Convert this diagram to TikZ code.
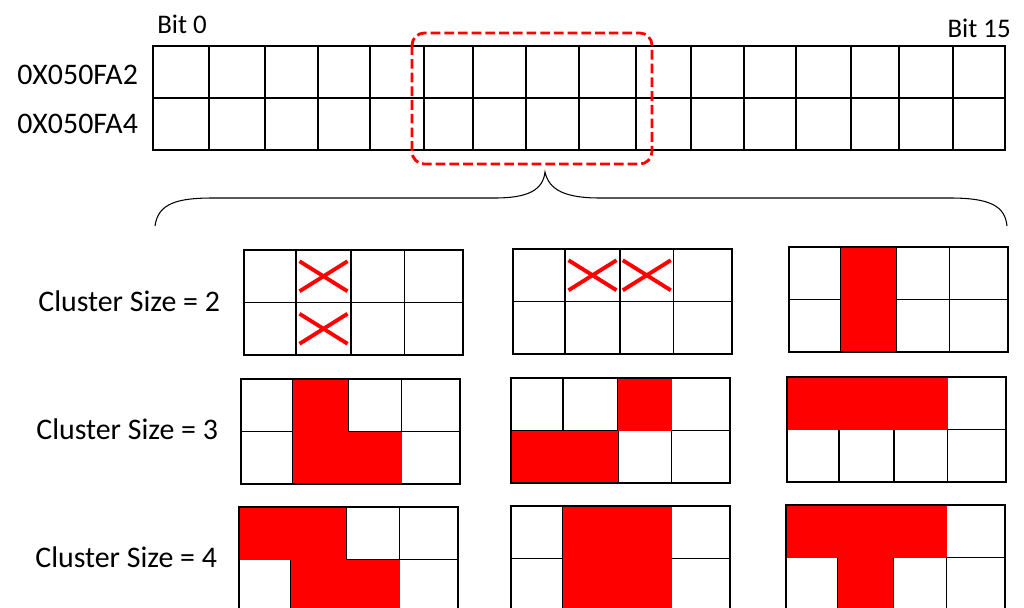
\documentclass[tikz,border=0pt]{standalone}
\usepackage{fontspec}
\setmainfont{Carlito}
\usepackage{tikz}
\usepackage{xcolor}

\newcommand{\colx}[1]{\ifcase#1 0\or 52\or 107\or 160.5\or 219\fi}
\newcommand{\cellh}{52.5}
% one 4x2 cluster: origin, filled cells (col/row), crossed cells (col/row)
\newcommand{\clustergrid}[3]{%
  \begin{scope}[shift={#1}]
    \foreach \i in {1,2,3} \draw[thingrid] (\colx{\i},0) -- (\colx{\i},2*\cellh);
    \draw[thingrid] (0,\cellh) -- (219,\cellh);
    \foreach \c/\r in {#2} {
      \pgfmathtruncatemacro\cn{\c+1}
      \fill[hotcell] (\colx{\c},\r*\cellh) rectangle (\colx{\cn},\r*\cellh+\cellh);
    }
    \foreach \c/\r in {#3} {
      \pgfmathtruncatemacro\cn{\c+1}
      \pgfmathsetmacro\xm{(\colx{\c}+\colx{\cn})/2}
      \draw[crossmark] (\xm-24,\r*\cellh+0.5*\cellh-15) -- ++(48,30);
      \draw[crossmark] (\xm-24,\r*\cellh+0.5*\cellh+15) -- ++(48,-30);
    }
    \draw[thickgrid] (0,0) rectangle (219,2*\cellh);
  \end{scope}}

\begin{document}
\begin{tikzpicture}[x=0.02cm, y=-0.02cm,
  thickgrid/.style={line width=1.4pt},
  thingrid/.style={line width=0.7pt},
  hotcell/.style={fill=red},
  crossmark/.style={red, line width=2.2pt},
  label/.style={inner sep=0pt, font=\fontsize{17}{20}\selectfont},
  bitlabel/.style={inner sep=0pt, font=\fontsize{15.3}{18}\selectfont}]
\useasboundingbox (0,0) rectangle (1024,608);
\clip (0,0) rectangle (1024,608);

% register
\foreach \x in {209,265,318,370,424,473,526,579,636,691,744,796,851,899,953}
  \draw[thingrid] (\x,46) -- (\x,150);
\draw[thingrid] (153,98) -- (1005,98);
\draw[thickgrid] (153,46) rectangle (1005,150);
\draw[red, line width=1.6pt, dash pattern=on 5.5pt off 2.3pt, rounded corners=7pt]
  (412,33) rectangle (652,164);

\node[bitlabel, anchor=base west] (bit0) at (157,34) {Bit 0};
\node[bitlabel, anchor=base east] (bit15) at (1011,38) {Bit 15};
\node[label, anchor=base west] (addr2) at (17,85) {0X050FA2};
\node[label, anchor=base west] (addr4) at (17,133) {0X050FA4};

% brace
\draw[line width=0.6pt] (155,226) .. controls (158,203) and (178,198) .. (213,198)
  -- (495,198) .. controls (528,198) and (543,190) .. (545,172)
  .. controls (549,190) and (565,198) .. (600,198)
  -- (950,198) .. controls (990,198) and (1005,206) .. (1007,226);

% clusters
\node[label, anchor=base west] (size2) at (38,311) {Cluster Size = 2};
\node[label, anchor=base west] (size3) at (36,439) {Cluster Size = 3};
\node[label, anchor=base west] (size4) at (35,567) {Cluster Size = 4};

\clustergrid{(244,250)}{}{1/0,1/1}
\clustergrid{(513,249)}{}{1/0,2/0}
\clustergrid{(789,247)}{1/0,1/1}{}
\clustergrid{(241,379)}{1/0,1/1,2/1}{}
\clustergrid{(511,378)}{2/0,0/1,1/1}{}
\clustergrid{(787,377)}{0/0,1/0,2/0}{}
\clustergrid{(239,507)}{0/0,1/0,1/1,2/1}{}
\clustergrid{(511,506)}{1/0,2/0,1/1,2/1}{}
\clustergrid{(786,505)}{0/0,1/0,2/0,1/1}{}
\end{tikzpicture}
\end{document}
